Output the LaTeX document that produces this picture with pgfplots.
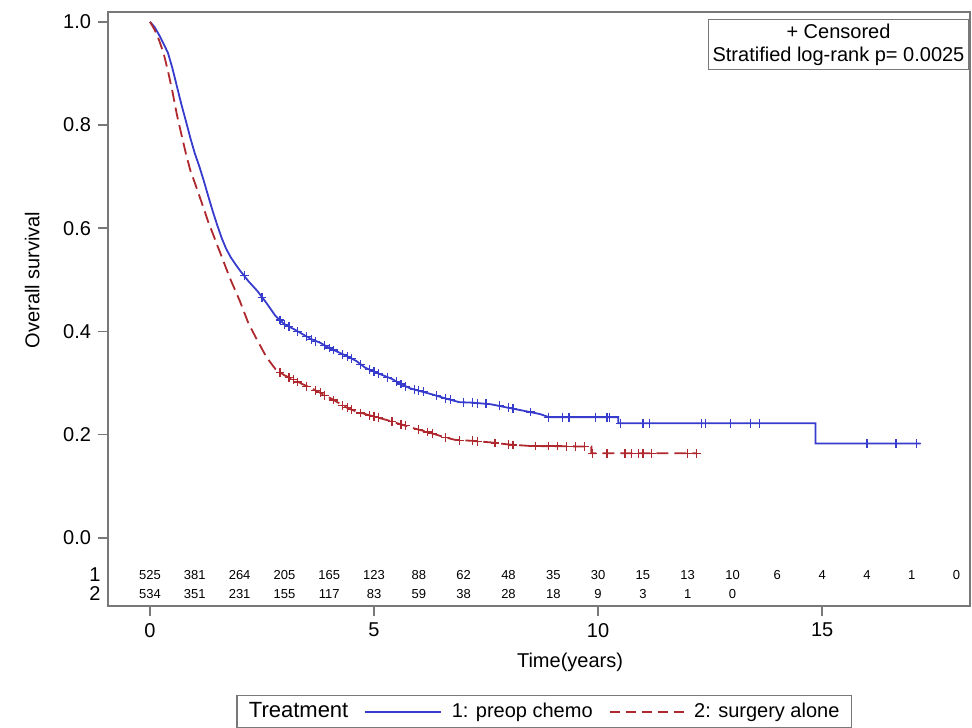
\documentclass[border=0pt]{standalone}
\usepackage{fontspec}
\setmainfont{Liberation Sans}
\usepackage{pgfplots}
\pgfplotsset{compat=1.18}
\usepackage{pgfplotstable}
\usetikzlibrary{calc}
\definecolor{chemo}{RGB}{55,60,205}
\definecolor{surg}{RGB}{175,40,45}
\definecolor{frame}{RGB}{120,120,120}
\pgfplotsset{
  chemoleg/.style={legend image code/.code={\draw[color=chemo, line width=0.9pt] (0pt,0pt) -- (38pt,0pt); \path (41pt,0pt);}},
  surgleg/.style={legend image code/.code={\draw[color=surg, line width=0.9pt, dash pattern=on 5pt off 3pt] (0pt,0pt) -- (37pt,0pt); \path (40pt,0pt);}}
}

% KM estimates
\pgfplotstableread{
t s
0 1.000
0.1 0.990
0.2 0.975
0.3 0.958
0.4 0.940
0.5 0.910
0.6 0.875
0.7 0.840
0.8 0.808
0.9 0.775
1.0 0.745
1.1 0.720
1.2 0.692
1.3 0.662
1.4 0.633
1.5 0.606
1.6 0.581
1.7 0.560
1.8 0.544
1.9 0.531
2.0 0.519
2.2 0.497
2.4 0.478
2.6 0.455
2.8 0.430
3.0 0.414
3.2 0.405
3.4 0.395
3.6 0.385
3.8 0.378
4.0 0.368
4.2 0.360
4.4 0.352
4.6 0.343
4.8 0.330
5.0 0.322
5.2 0.315
5.4 0.308
5.6 0.298
5.8 0.290
6.0 0.285
6.3 0.278
6.6 0.270
6.9 0.263
7.2 0.262
7.6 0.259
8.0 0.252
8.3 0.247
8.7 0.240
8.9 0.234
10.45 0.234
10.45 0.222
14.85 0.222
14.85 0.183
17.2 0.183
}\chemo

\pgfplotstableread{
t s
0 1.000
0.1 0.985
0.2 0.965
0.3 0.940
0.4 0.905
0.5 0.865
0.6 0.820
0.7 0.782
0.8 0.745
0.9 0.712
1.0 0.688
1.1 0.663
1.2 0.638
1.3 0.612
1.4 0.590
1.5 0.567
1.6 0.545
1.7 0.522
1.8 0.500
1.9 0.480
2.0 0.460
2.2 0.415
2.4 0.382
2.6 0.350
2.8 0.327
3.0 0.315
3.2 0.307
3.4 0.298
3.6 0.290
3.8 0.281
4.0 0.272
4.2 0.262
4.4 0.252
4.6 0.245
4.8 0.240
5.0 0.235
5.3 0.228
5.6 0.220
5.9 0.212
6.2 0.205
6.5 0.197
6.8 0.190
7.2 0.188
7.6 0.185
8.0 0.181
8.5 0.178
9.85 0.177
9.85 0.164
12.2 0.164
}\surg

% censored observations
\pgfplotstableread{
t s
2.1 0.508
2.5 0.466
2.9 0.422
3.0 0.414
3.1 0.409
3.3 0.400
3.5 0.390
3.6 0.385
3.7 0.381
3.9 0.373
4.0 0.368
4.1 0.364
4.3 0.356
4.4 0.352
4.5 0.347
4.7 0.336
4.9 0.326
5.0 0.322
5.1 0.318
5.3 0.311
5.5 0.303
5.6 0.298
5.7 0.294
5.9 0.287
6.0 0.285
6.1 0.283
6.4 0.276
6.6 0.270
6.7 0.268
7.0 0.263
7.2 0.262
7.3 0.261
7.5 0.260
7.8 0.256
8.0 0.252
8.1 0.250
8.5 0.244
8.9 0.234
9.2 0.234
9.35 0.234
9.95 0.234
10.2 0.234
10.25 0.234
10.5 0.222
11.0 0.222
11.15 0.222
12.3 0.222
12.4 0.222
12.95 0.222
13.4 0.222
13.6 0.222
16.0 0.183
16.65 0.183
17.1 0.183
}\chemocens

\pgfplotstableread{
t s
2.9 0.321
3.1 0.311
3.2 0.307
3.3 0.302
3.5 0.294
3.7 0.285
3.8 0.281
3.9 0.276
4.1 0.267
4.3 0.257
4.4 0.252
4.5 0.248
4.7 0.242
4.9 0.237
5.0 0.235
5.1 0.233
5.4 0.225
5.6 0.220
5.7 0.217
6.0 0.210
6.2 0.205
6.3 0.202
6.6 0.195
6.9 0.189
7.2 0.188
7.3 0.187
7.7 0.184
8.0 0.181
8.1 0.180
8.6 0.178
8.9 0.178
9.1 0.178
9.3 0.177
9.5 0.177
9.7 0.177
9.87 0.164
10.2 0.164
10.6 0.164
10.75 0.164
10.9 0.164
11.0 0.164
11.2 0.164
12.0 0.164
12.2 0.164
}\surgcens

% numbers at risk
\pgfplotstableread{
t y n
0 -0.072 525
1 -0.072 381
2 -0.072 264
3 -0.072 205
4 -0.072 165
5 -0.072 123
6 -0.072 88
7 -0.072 62
8 -0.072 48
9 -0.072 35
10 -0.072 30
11 -0.072 15
12 -0.072 13
13 -0.072 10
14 -0.072 6
15 -0.072 4
16 -0.072 4
17 -0.072 1
18 -0.072 0
}\riskone

\pgfplotstableread{
t y n
0 -0.108 534
1 -0.108 351
2 -0.108 231
3 -0.108 155
4 -0.108 117
5 -0.108 83
6 -0.108 59
7 -0.108 38
8 -0.108 28
9 -0.108 18
10 -0.108 9
11 -0.108 3
12 -0.108 1
13 -0.108 0
}\risktwo

\begin{document}
\begin{tikzpicture}
\begin{axis}[
  scale only axis, width=431pt, height=297pt,
  xmin=-0.9375, xmax=18.3, ymin=-0.132, ymax=1.019,
  clip=false,
  font=\fontsize{10}{12}\selectfont,
  xtick={0,5,10,15}, ytick={0,0.2,0.4,0.6,0.8,1.0},
  yticklabel style={/pgf/number format/.cd, fixed, fixed zerofill, precision=1},
  /pgf/number format/assume math mode=true,
  xtick pos=bottom, ytick pos=left, tick align=outside,
  major tick length=5pt,
  tick style={draw=frame, line width=0.8pt},
  axis line style={draw=frame, line width=1pt},
  xlabel={Time(years)}, ylabel={Overall survival},
  xlabel style={at={(axis description cs:0.536,-0.094)}, anchor=center},
  ylabel style={at={(axis description cs:-0.088,0.549)}, anchor=center},
  legend columns=3,
  legend style={at={(axis description cs:0.506,-0.178)}, anchor=center,
    draw=frame, line width=0.6pt, inner xsep=4pt, inner ysep=1.5pt,
    font=\fontsize{10}{12}\selectfont,
    /tikz/every even column/.append style={column sep=6pt}},
  legend cell align=left,
]
\coordinate (bl) at (rel axis cs:0,0);
\coordinate (tr) at (rel axis cs:1,1);

\addplot[sharp plot, chemo, line width=0.9pt, forget plot] table[x=t, y=s] {\chemo};
\addplot[sharp plot, surg, line width=0.9pt, dash pattern=on 6pt off 3pt, forget plot] table[x=t, y=s] {\surg};
\addplot[only marks, mark=+, mark size=2.2pt, chemo, line width=0.6pt, forget plot] table[x=t, y=s] {\chemocens};
\addplot[only marks, mark=+, mark size=2.2pt, surg, line width=0.6pt, forget plot] table[x=t, y=s] {\surgcens};

\addplot[draw=none, mark=none, forget plot, nodes near coords, point meta=explicit symbolic,
  every node near coord/.style={anchor=center, font=\fontsize{6.5}{7}\selectfont}]
  table[x=t, y=y, meta=n] {\riskone};
\addplot[draw=none, mark=none, forget plot, nodes near coords, point meta=explicit symbolic,
  every node near coord/.style={anchor=center, font=\fontsize{6.5}{7}\selectfont}]
  table[x=t, y=y, meta=n] {\risktwo};

\node[anchor=center] at (axis cs:-1.23,-0.072) {1};
\node[anchor=center] at (axis cs:-1.23,-0.108) {2};

\node[draw=frame, line width=0.6pt, anchor=north east, align=center, inner sep=2pt,
  font=\fontsize{10}{11.5}\selectfont, xshift=-0.5pt, yshift=-3.5pt]
  at (rel axis cs:1,1) {+ Censored\\Stratified log-rank p= 0.0025};

\addlegendimage{empty legend}
\addlegendentry{\fontsize{11}{12}\selectfont Treatment\hspace{6pt}}
\addlegendimage{chemoleg}
\addlegendentry{1: preop chemo}
\addlegendimage{surgleg}
\addlegendentry{2: surgery alone}
\end{axis}
\pgfresetboundingbox
\path[use as bounding box] ($(bl)+(-54pt,-60.5pt)$) rectangle ($(tr)+(1pt,6pt)$);
\end{tikzpicture}
\end{document}
